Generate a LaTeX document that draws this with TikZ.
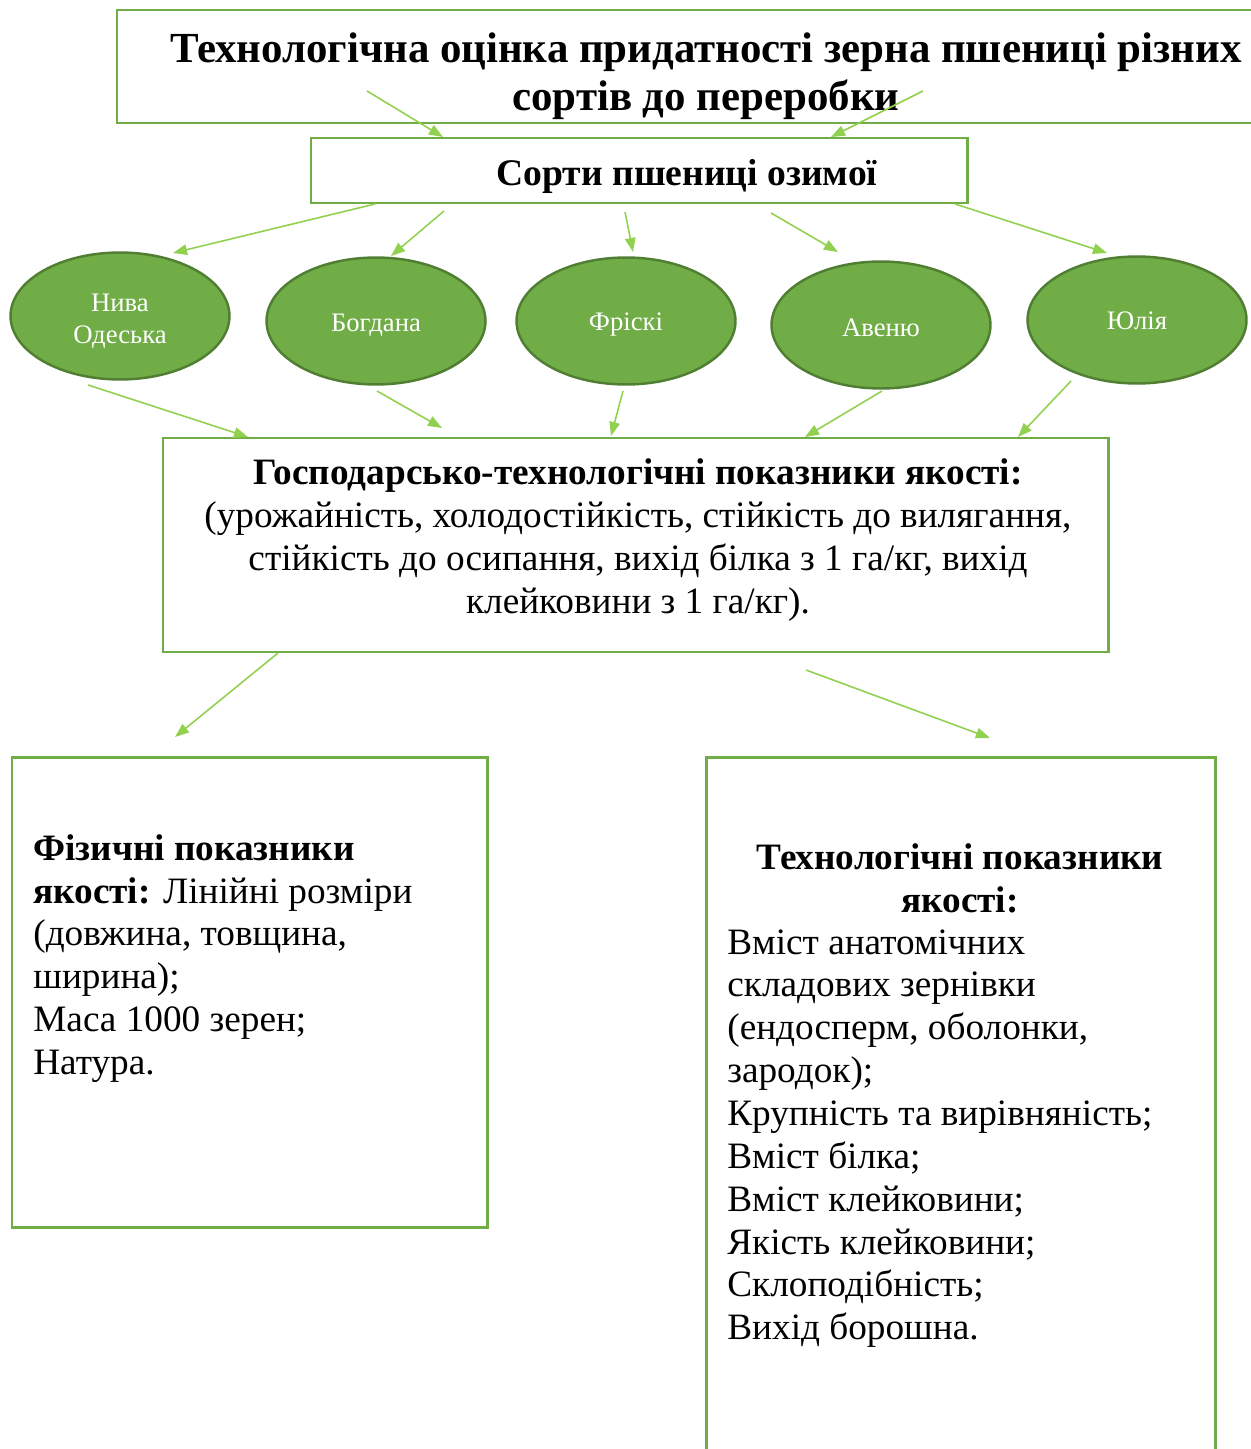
\documentclass[tikz,border=0pt]{standalone}
\usepackage{fontspec}
\setmainfont{Liberation Serif}
\usetikzlibrary{arrows.meta, fit, shapes.geometric}
\definecolor{rahmen}{RGB}{112,173,71}
\definecolor{rand}{RGB}{80,126,50}
\definecolor{pfeil}{RGB}{146,208,80}

\begin{document}
\begin{tikzpicture}[x=0.02cm, y=-0.02cm,
    kasten/.style={draw=rahmen, line width=1.7pt, inner sep=0pt},
    sorte/.style={ellipse, draw=rand, line width=1.4pt, fill=rahmen, text=white, minimum width=4.38cm, minimum height=2.54cm, inner sep=0pt, align=center, font=\fontsize{15.2}{18}\selectfont},
    pfeillinie/.style={draw=pfeil, line width=0.9pt, -{Triangle[length=8pt, width=6pt]}},
    schrift/.style={inner sep=0pt, font=\fontsize{21.2}{24.4}\selectfont}]

    \useasboundingbox (0,0) rectangle (1250,1449);

    % Kaesten
    \node[kasten, fit={(117,10) (1252,123)}] (titel) {};
    \node[kasten, fit={(311,138) (967,203)}] (sorten) {};
    \node[kasten, fit={(163,438) (1108,652)}] (haupt) {};
    \node[kasten, fit={(12,757) (487,1227)}] (physik) {};
    \node[kasten, fit={(706,757) (1215,1465)}] (technik) {};

    \node[inner sep=0pt, align=center, font=\fontsize{24.4}{27.2}\selectfont\bfseries] (titeltext) at (706,76)
        {Технологічна оцінка придатності зерна пшениці різних\\сортів до переробки};
    \node[schrift, font=\fontsize{21.4}{24.4}\selectfont\bfseries] (sortentext) at (687,176) {Сорти пшениці озимої};

    % Sorten
    \node[sorte] (niva) at (120,316) {\raisebox{-2.8pt}[\height][\depth]{\begin{tabular}{@{}c@{}}Нива\\Одеська\end{tabular}}};
    \node[sorte] (bohdana) at (376,321) {\raisebox{-2.2pt}[\height][\depth]{Богдана}};
    \node[sorte] (friski) at (626,321) {\raisebox{-2.2pt}[\height][\depth]{Фріскі}};
    \node[sorte] (aveniu) at (881,325) {\raisebox{-1.7pt}[\height][\depth]{Авеню}};
    \node[sorte] (yuliia) at (1137,320) {\raisebox{-0.6pt}[\height][\depth]{Юлія}};

    \node[schrift, align=center] (haupttext) at (638,540)
        {\textbf{Господарсько-технологічні показники якості:}\\(урожайність, холодостійкість, стійкість до вилягання,\\стійкість до осипання, вихід білка з 1 га/кг, вихід\\клейковини з 1 га/кг).};

    \node[schrift, align=left, anchor=north west] (physiktext) at (33,834)
        {\textbf{Фізичні показники}\\\textbf{якості:} Лінійні розміри\\(довжина, товщина,\\ширина);\\Маса 1000 зерен;\\Натура.};

    \node[schrift, align=center, font=\fontsize{21.2}{24.4}\selectfont\bfseries] (techkopf) at (960,878)
        {Технологічні показники\\якості:};
    \node[schrift, align=left, anchor=north west] (techtext) at (727,929)
        {Вміст анатомічних\\складових зернівки\\(ендосперм, оболонки,\\зародок);\\Крупність та вирівняність;\\Вміст білка;\\Вміст клейковини;\\Якість клейковини;\\Склоподібність;\\Вихід борошна.};

    % Pfeile
    \foreach \xa/\ya/\xb/\yb [count=\i] in {367/91/443/137, 923/91/831/137,
        375/204/173/253, 444/211/391/256, 625/212/633/252, 771/213/838/252, 955/204/1107/253,
        88/385/248/437, 377/391/442/428, 623/391/611/436, 882/391/805/437, 1071/381/1018/437,
        278/653/175/737, 806/670/990/738}{
        \coordinate (von\i) at (\xa,\ya);
        \coordinate (nach\i) at (\xb,\yb);
        \draw[pfeillinie] (von\i) -- (nach\i);
    }

\end{tikzpicture}
\end{document}
